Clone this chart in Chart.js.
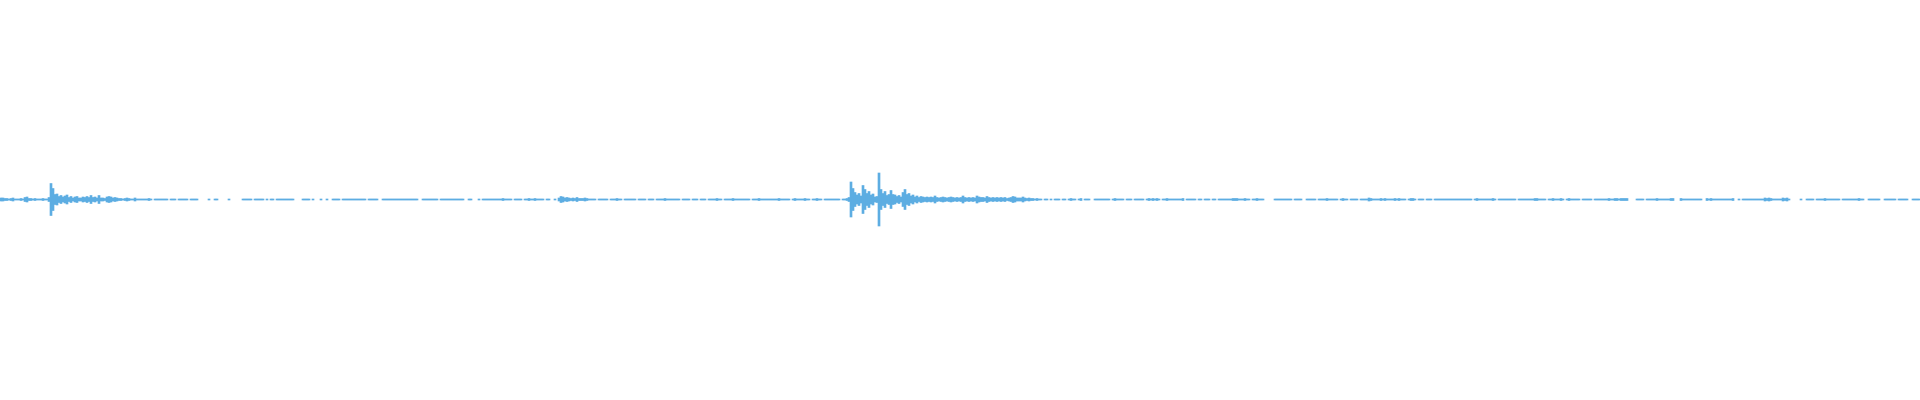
<!DOCTYPE html>
<html>
    <head>
        <title>Waveform</title>
        <style>
            html, body { margin: 0; padding: 0; background: #ffffff; }
        </style>
    </head>
    <body>
        <script src="https://cdn.jsdelivr.net/npm/chart.js"></script>
        <canvas id="waveChart" width="1920" height="400"></canvas>
        <script>
            // peak amplitude per 2px column, in half-pixel units (symmetric around zero)
            const amplitude = [
                3,3,2,2,1,2,3,1,1,1, 2,1,4,5,2,2,1,2,1,1, 1,2,1,1,4,32,22,10,11,6, 8,5,7,9,4,6,3,5,6,3,
                3,5,4,6,4,8,4,5,3,8, 3,3,2,5,6,5,3,4,3,2, 2,1,2,3,2,1,1,3,1,1, 1,1,1,1,2,1,0,1,1,1,
                1,1,1,1,0,1,1,1,0,1, 1,1,1,1,0,1,1,1,1,0, 0,0,0,0,1,0,0,1,1,0, 0,0,0,0,1,0,0,0,0,0,
                0,1,1,1,1,1,0,1,1,1, 1,1,0,1,0,1,1,0,1,1, 1,1,1,1,1,1,1,0,0,0, 0,1,1,1,1,0,1,0,0,0,
                1,0,0,1,0,0,1,1,1,1, 0,1,1,1,1,1,1,1,1,1, 1,1,1,0,1,1,1,1,1,0, 0,1,1,1,1,1,1,1,1,1,
                1,1,1,1,1,1,1,1,1,0, 0,1,1,1,1,1,1,1,1,0, 1,1,1,1,1,1,1,1,1,1, 1,1,0,0,1,1,0,0,0,1,
                0,1,1,1,1,1,1,1,1,1, 1,2,1,1,1,1,0,1,1,1, 1,0,1,1,2,1,1,2,1,1, 1,1,0,1,1,0,0,1,0,3,
                6,5,3,4,3,2,3,2,4,2, 2,2,3,2,1,1,1,1,0,1, 1,1,1,1,0,1,1,1,2,1, 1,0,1,1,1,1,1,1,0,1,
                1,1,1,0,1,1,1,0,1,1, 1,1,2,1,1,1,1,1,1,1, 0,1,1,1,1,0,1,1,1,0, 1,1,1,0,1,1,1,1,2,1,
                1,0,1,1,1,1,2,1,1,1, 1,1,1,1,1,0,1,1,1,2, 1,1,1,1,1,1,1,1,1,2, 1,1,1,1,1,0,1,2,1,1,
                1,1,2,1,1,0,1,1,2,1, 1,0,1,1,1,1,1,1,1,1, 0,1,1,2,4,35,22,14,9,12, 7,28,20,12,16,9,11,5,6,53,
                20,12,16,8,10,18,10,9,6,8, 5,14,20,10,12,7,9,5,7,4, 6,5,4,5,4,5,4,7,4,3, 4,5,4,3,4,5,4,3,4,3,
                4,7,4,3,4,3,4,3,7,5, 4,4,3,6,4,3,4,3,4,3, 4,3,4,2,3,4,6,5,3,3, 3,5,3,2,3,2,2,1,2,1,
                1,0,1,1,0,1,0,1,1,1, 0,1,1,0,1,2,1,1,0,1, 2,0,1,1,1,0,0,1,1,1, 1,1,1,1,1,0,1,2,1,1,
                1,1,0,1,1,1,0,1,1,1, 1,1,0,1,2,1,2,1,2,1, 0,1,1,2,1,1,1,1,1,1, 1,2,0,1,1,1,1,1,0,1,
                1,0,1,1,1,0,1,1,0,1, 1,1,1,1,1,1,2,2,2,1, 1,1,2,1,1,0,1,1,2,1, 1,1,0,0,0,0,0,1,1,1,
                1,1,1,1,1,1,0,1,1,1, 1,0,0,1,1,1,1,1,0,1, 1,1,1,2,1,1,1,1,1,0, 1,2,1,1,0,1,1,1,1,0,
                1,1,1,1,3,2,1,1,1,1, 2,1,2,1,1,1,1,2,1,2, 1,1,1,0,1,2,2,1,0,1, 1,1,0,1,1,1,0,1,1,1,
                1,1,1,1,1,1,1,1,1,1, 1,1,1,1,1,1,0,1,2,1, 1,1,1,1,1,1,2,1,0,1, 1,1,1,1,1,1,1,1,0,1,
                1,1,1,1,1,1,1,2,2,1, 1,1,1,0,1,1,2,1,1,1, 2,1,0,1,2,1,1,1,1,1, 0,1,1,1,1,1,0,1,1,1,
                1,1,1,1,2,1,1,2,2,1, 2,2,2,2,0,0,0,0,1,1, 1,1,0,1,1,1,1,1,2,1, 1,1,1,1,1,2,2,0,0,0,
                2,1,1,1,1,1,1,1,1,1, 1,0,0,2,1,2,1,1,1,1, 1,1,1,1,1,1,2,0,0,1, 0,1,1,1,1,1,1,1,1,1,
                1,1,3,2,3,2,1,1,1,1, 1,3,2,3,1,0,0,0,0,0, 1,0,0,1,1,1,1,0,1,1, 1,1,2,1,1,1,1,1,1,1,
                0,1,1,1,1,1,1,1,1,2, 1,1,0,0,1,1,1,1,1,1, 0,0,1,1,1,1,1,1,0,1, 1,1,1,1,0,0,1,1,1,1
            ];
            const sampleBins = amplitude.map((_, i) => i);

            const ctx = document.getElementById('waveChart').getContext('2d');

            const waveChart = new Chart(ctx, {
                type: 'bar',
                data: {
                    labels: sampleBins,
                    datasets: [{
                        label: 'Amplitude',
                        data: amplitude.map(a => (a > 0 ? [-a, a] : null)),
                        backgroundColor: '#5dade2',
                        borderWidth: 0,
                        borderSkipped: false,
                        barPercentage: 1.0,
                        categoryPercentage: 1.0,
                    }]
                },
                options: {
                    responsive: false,
                    animation: false,
                    layout: { padding: 0 },
                    plugins: {
                        legend: { display: false },
                        tooltip: { enabled: false },
                    },
                    scales: {
                        x: { display: false },
                        y: {
                            display: false,
                            min: -401,
                            max: 399,
                        }
                    }
                }
            });
        </script>
    </body>
</html>
